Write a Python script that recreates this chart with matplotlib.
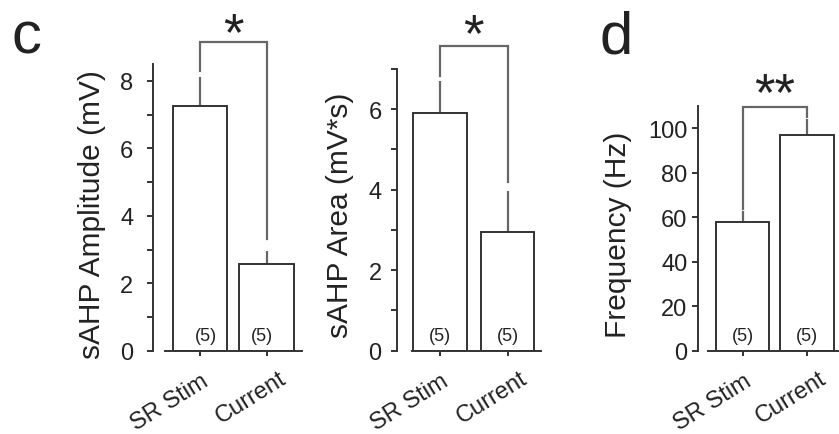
import matplotlib
matplotlib.use('Agg')
import matplotlib.pyplot as plt
from matplotlib.ticker import MultipleLocator
from matplotlib.transforms import offset_copy

plt.rcParams['font.family'] = ['Liberation Sans', 'DejaVu Sans']

# data
groups = ['SR Stim', 'Current']
n_cells = [5, 5]

amp_mean = [7.24, 2.57]
amp_sem = [0.86, 0.39]
area_mean = [5.90, 2.95]
area_sem = [0.81, 1.03]
freq_mean = [58.0, 97.0]
freq_sem = [4.9, 7.2]

stars = ['*', '*', '**']
ylabels = ['sAHP Amplitude (mV)', 'sAHP Area (mV*s)', 'Frequency (Hz)']
panel_letters = ['c', 'd']

W, H = 839, 435
Y0 = 351.7  # pixel row of the zero line
fig = plt.figure(figsize=(W / 100, H / 100), dpi=100)

TXT = '#222222'
EDGE = '#333333'
GREY = '#666666'

# layout of each panel in pixels
layout = [
    dict(spine=153, x0=199.7, step=66.8, right=308, top=65, ymax=8.5, major=2, minor=1,
         width=0.81, xb=(-0.52, 1.53), pad=10, lab=(92.5, 214.5), br=43.3, gaps=(6.7, 11.7),
         star_y=27.5, n_dx=(6, -4.5)),
    dict(spine=396.7, x0=439.6, step=67.9, right=552, top=70, ymax=7.0, major=2, minor=1,
         width=0.795, xb=(-0.41, 1.50), pad=6.5, lab=(340.5, 215), br=46.7, gaps=(5, 8.5),
         star_y=29, n_dx=(0, 0)),
    dict(spine=698.3, x0=742.7, step=64.3, right=850, top=107, ymax=110, major=20, minor=20,
         width=0.83, xb=(-0.54, 1.7), pad=3.6, lab=(618.5, 235), br=108.3, gaps=(2, 2),
         star_y=88, n_dx=(0, 0)),
]
means = [amp_mean, area_mean, freq_mean]
sems = [amp_sem, area_sem, freq_sem]

for k, L in enumerate(layout):
    ax = fig.add_axes([L['spine'] / W, 1 - Y0 / H,
                       (L['right'] - L['spine']) / W, (Y0 - L['top']) / H])
    ppu = (Y0 - L['top']) / L['ymax']  # pixels per data unit
    x = list(range(len(groups)))
    ax.set_xlim((L['spine'] - L['x0']) / L['step'], (L['right'] - L['x0']) / L['step'])
    ax.set_ylim(0, L['ymax'])
    ax.patch.set_visible(False)

    ax.bar(x, means[k], width=L['width'], color='white', edgecolor=EDGE, linewidth=1.4, zorder=2)
    for i in x:
        ax.vlines(i, means[k][i], means[k][i] + sems[k][i], color=GREY, lw=1.6, zorder=1)

    # significance bracket
    top = (Y0 - L['br']) / ppu
    lb = means[k][0] + sems[k][0] + L['gaps'][0] / ppu
    rb = means[k][1] + sems[k][1] + L['gaps'][1] / ppu
    ax.plot([0, 0, 1, 1], [lb, top, top, rb], color=GREY, lw=1.6, clip_on=False,
            solid_joinstyle='miter')
    st_y = (Y0 - L['star_y']) / ppu
    ax.text(0.5, st_y, stars[k], ha='center', va='center_baseline', fontsize=38,
            color=TXT, transform=offset_copy(ax.transData, fig=fig, y=-3, units='dots'))

    # n labels inside bars
    for i in x:
        ax.text(i, 0, '(%d)' % n_cells[i], ha='center', va='center', fontsize=13, color=TXT,
                transform=offset_copy(ax.transData, fig=fig, x=L['n_dx'][i], y=15, units='dots'))

    for s in ['top', 'right']:
        ax.spines[s].set_visible(False)
    for s in ['left', 'bottom']:
        ax.spines[s].set_linewidth(1.4)
        ax.spines[s].set_color(EDGE)
    ax.spines['bottom'].set_bounds(*L['xb'])

    ax.yaxis.set_major_locator(MultipleLocator(L['major']))
    ax.yaxis.set_minor_locator(MultipleLocator(L['minor']))
    ax.tick_params(axis='y', which='both', direction='out', length=4.3, width=1.4,
                   color=EDGE, labelsize=17, labelcolor=TXT, pad=L['pad'])
    ax.set_xticks(x)
    ax.set_xticklabels([])
    ax.tick_params(axis='x', direction='out', length=3.6, width=1.4, color=EDGE)

    # rotated group labels
    offs = [(-30, -51), (-16, -46)]
    for i in x:
        ax.text(i, 0, groups[i], rotation=32, rotation_mode='anchor', ha='center', va='center',
                fontsize=17, color=TXT,
                transform=offset_copy(ax.get_xaxis_transform(), fig=fig,
                                      x=offs[i][0], y=offs[i][1], units='dots'))

    ax.set_ylabel(ylabels[k], fontsize=21.5, color=TXT)
    ax.yaxis.label.set_va('center')
    ax.yaxis.set_label_coords((L['lab'][0] - L['spine']) / (L['right'] - L['spine']),
                              (Y0 - L['lab'][1]) / (Y0 - L['top']))

fig.text(11 / W, 1 - 53 / H, panel_letters[0], fontsize=43, va='baseline', color=TXT)
fig.text(600 / W, 1 - 53 / H, panel_letters[1], fontsize=43, va='baseline', color=TXT)

fig.savefig('out.png', dpi=100)
